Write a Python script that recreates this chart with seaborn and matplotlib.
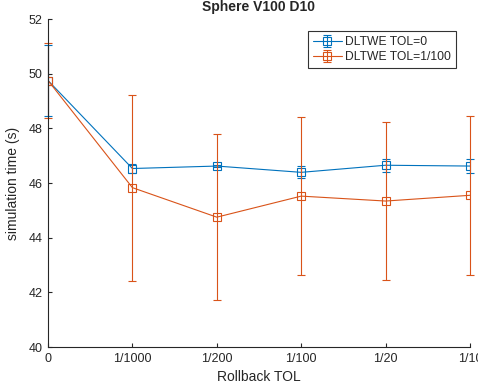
import matplotlib
matplotlib.use("Agg")
import matplotlib.pyplot as plt
import seaborn as sns
import numpy as np
import pandas as pd
from matplotlib.legend_handler import HandlerTuple

# ---- data ----
tick_labels = ["0", "1/1000", "1/200", "1/100", "1/20", "1/10"]
tol0_mean = [49.75, 46.53, 46.62, 46.39, 46.65, 46.62]
tol0_err = [1.30, 0.15, 0.05, 0.22, 0.24, 0.26]
tol100_mean = [49.75, 45.83, 44.75, 45.52, 45.34, 45.55]
tol100_err = [1.36, 3.40, 3.04, 2.90, 2.90, 2.91]
series_names = ["DLTWE TOL=0", "DLTWE TOL=1/100"]

blue = "#0072BD"
orange = "#D95319"

sns.set_theme(style="ticks")
plt.rcParams["font.family"] = ["Liberation Sans", "DejaVu Sans"]
plt.rcParams["axes.edgecolor"] = "#262626"
plt.rcParams["xtick.color"] = "#262626"
plt.rcParams["ytick.color"] = "#262626"

fig = plt.figure(figsize=(4.78, 3.89), dpi=100)
ax = fig.add_axes([48 / 478, 42 / 389, 422 / 478, 328 / 389])

pos = np.arange(len(tick_labels))
df = pd.DataFrame({
    "pos": np.concatenate([pos, pos]),
    "val": tol0_mean + tol100_mean,
    "series": [series_names[0]] * len(pos) + [series_names[1]] * len(pos),
})

handles = []
for name, mean, err, col in [(series_names[0], tol0_mean, tol0_err, blue),
                              (series_names[1], tol100_mean, tol100_err, orange)]:
    sub = df[df["series"] == name]
    nlines = len(ax.lines)
    sns.lineplot(data=sub, x="pos", y="val", ax=ax, color=col, lw=0.8,
                 marker="s", markersize=6, markerfacecolor="none",
                 markeredgecolor=col, markeredgewidth=0.8, legend=False)
    line = ax.lines[nlines]
    eb = ax.errorbar(pos, mean, yerr=err, fmt="none", ecolor=col,
                     elinewidth=0.8, capsize=2.7, capthick=0.8)
    for art in list(eb.lines[1]) + list(eb.lines[2]):
        art.set_clip_on(False)
    handles.append((line, eb))

ax.set_xlim(0, 5)
ax.set_ylim(40, 52)
ax.set_xticks(pos)
ax.set_xticklabels(tick_labels)
ax.set_yticks(np.arange(40, 53, 2))
ax.tick_params(direction="in", length=3, width=0.8, labelsize=9, pad=4)
for s in ["left", "bottom"]:
    ax.spines[s].set_linewidth(0.8)
sns.despine(ax=ax)

ax.set_xlabel("Rollback TOL", fontsize=10, color="#262626", labelpad=4)
ax.set_ylabel("simulation time (s)", fontsize=10, color="#262626", labelpad=6)
ax.set_title("Sphere V100 D10", fontsize=10, fontweight="bold", pad=6)

leg = ax.legend(handles, series_names, loc="upper right",
                bbox_to_anchor=(0.967, 0.963), borderaxespad=0,
                fontsize=8.7, frameon=True, fancybox=False,
                handler_map={tuple: HandlerTuple(ndivide=1)},
                handlelength=2.4, borderpad=0.4, labelspacing=0.25,
                handletextpad=0.3)
leg.get_frame().set_edgecolor("black")
leg.get_frame().set_linewidth(0.8)

fig.savefig("out.png", dpi=100)
